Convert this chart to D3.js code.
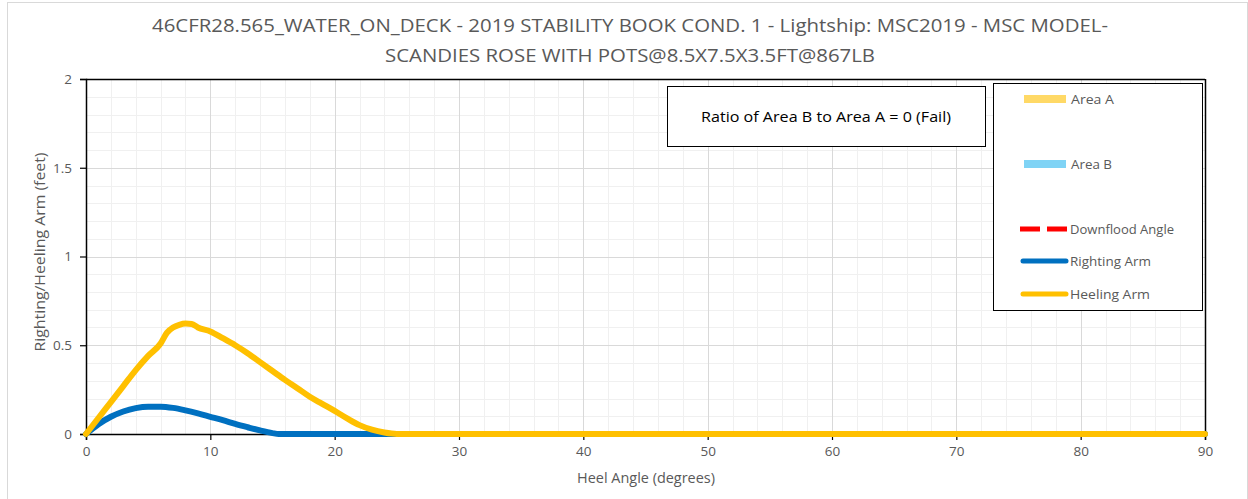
<!DOCTYPE html>
<html>
<head>
<meta charset="utf-8">
<script src="https://cdn.jsdelivr.net/npm/d3@7"></script>
<style>
  html, body { margin: 0; padding: 0; background: #fff; }
  svg { display: block; }
  text { font-family: "Open Sans", "Noto Sans", sans-serif; }
</style>
</head>
<body>
<svg id="chart" width="1248" height="499"></svg>
<script>
// ---- data ----
const titleLines = [
  "46CFR28.565_WATER_ON_DECK - 2019 STABILITY BOOK COND. 1 - Lightship: MSC2019 - MSC MODEL-",
  "SCANDIES ROSE WITH POTS@8.5X7.5X3.5FT@867LB"
];
const xTicks = [0, 10, 20, 30, 40, 50, 60, 70, 80, 90];
const yTicks = [0, 0.5, 1, 1.5, 2];
const yTickLabels = ["0", "0.5", "1", "1.5", "2"];

const heelingAngle = [0, 1, 2, 3, 4, 5, 6, 6.5, 7, 7.5, 8, 8.5, 9, 10, 11, 12, 13, 14, 15, 16, 17, 18, 19, 20, 21, 22, 23, 24, 25, 30, 40, 50, 60, 70, 80, 90];
const heelingArm   = [0, 0.09, 0.18, 0.27, 0.36, 0.44, 0.51, 0.57, 0.60, 0.615, 0.622, 0.62, 0.60, 0.578, 0.54, 0.50, 0.455, 0.405, 0.355, 0.305, 0.258, 0.21, 0.17, 0.13, 0.088, 0.05, 0.024, 0.008, 0, 0, 0, 0, 0, 0, 0, 0];

const rightingAngle = [0, 1, 2, 3, 4, 5, 6, 7, 8, 9, 10, 11, 12, 13, 14, 15, 15.5, 20, 30, 40, 50, 60, 70, 80, 90];
const rightingArm   = [0, 0.055, 0.097, 0.127, 0.146, 0.154, 0.154, 0.147, 0.133, 0.116, 0.097, 0.078, 0.057, 0.038, 0.02, 0.005, 0, 0, 0, 0, 0, 0, 0, 0, 0];

const legendNames = ["Area A", "Area B", "Downflood Angle", "Righting Arm", "Heeling Arm"];
const ratioText = "Ratio of Area B to Area A = 0 (Fail)";

// ---- layout ----
const svg = d3.select("#chart");
const L = 86, R = 1205, T = 79, B = 434;
const x = d3.scaleLinear().domain([0, 90]).range([L, R]);
const y = d3.scaleLinear().domain([0, 2]).range([B, T]);
const textCol = "#595959";

// outer chart border
svg.append("rect").attr("x", 7.5).attr("y", 2.5).attr("width", 1240).attr("height", 510)
  .attr("fill", "#fff").attr("stroke", "#d9d9d9").attr("stroke-width", 1);

// title
const titleY = [32, 62];
const titleLen = [956, 490];
titleLines.forEach((t, i) => {
  svg.append("text").attr("x", 630).attr("y", titleY[i]).attr("text-anchor", "middle")
    .attr("font-size", 18.5).attr("fill", textCol)
    .attr("textLength", titleLen[i]).attr("lengthAdjust", "spacingAndGlyphs")
    .text(t);
});

// minor gridlines
const minorX = d3.range(0, 91, 2).filter(d => d % 10 !== 0);
const minorY = d3.range(0, 2.001, 0.1).map(d => +d.toFixed(1)).filter(d => Math.abs(d * 2 - Math.round(d * 2)) > 1e-6);
const g = svg.append("g");
g.selectAll(".mx").data(minorX).join("line")
  .attr("x1", d => Math.round(x(d)) + 0.5).attr("x2", d => Math.round(x(d)) + 0.5)
  .attr("y1", T).attr("y2", B).attr("stroke", "#f0f0f0").attr("stroke-width", 1);
g.selectAll(".my").data(minorY).join("line")
  .attr("y1", d => Math.round(y(d)) + 0.5).attr("y2", d => Math.round(y(d)) + 0.5)
  .attr("x1", L).attr("x2", R).attr("stroke", "#f0f0f0").attr("stroke-width", 1);
// major gridlines
g.selectAll(".Mx").data(xTicks.slice(1, -1)).join("line")
  .attr("x1", d => Math.round(x(d)) + 0.5).attr("x2", d => Math.round(x(d)) + 0.5)
  .attr("y1", T).attr("y2", B).attr("stroke", "#d9d9d9").attr("stroke-width", 1);
g.selectAll(".My").data(yTicks.slice(1, -1)).join("line")
  .attr("y1", d => Math.round(y(d)) + 0.5).attr("y2", d => Math.round(y(d)) + 0.5)
  .attr("x1", L).attr("x2", R).attr("stroke", "#d9d9d9").attr("stroke-width", 1);

// plot border (top/right)
svg.append("line").attr("x1", L).attr("x2", R).attr("y1", T + 0.5).attr("y2", T + 0.5).attr("stroke", "#000").attr("stroke-width", 1.5);
svg.append("line").attr("x1", R + 0.5).attr("x2", R + 0.5).attr("y1", T).attr("y2", B).attr("stroke", "#000").attr("stroke-width", 1.5);

// axes
const xAxis = d3.axisBottom(x).tickValues(xTicks).tickSize(6).tickPadding(6).tickFormat(d3.format("d"));
const yAxis = d3.axisLeft(y).tickValues(yTicks).tickSize(6).tickPadding(8).tickFormat((d, i) => yTickLabels[i]);
const gx = svg.append("g").attr("transform", `translate(0,${B})`).call(xAxis);
const gy = svg.append("g").attr("transform", `translate(${L},0)`).call(yAxis);
[gx, gy].forEach(a => {
  a.select(".domain").attr("stroke", "#000").attr("stroke-width", 1.5);
  a.selectAll(".tick line").attr("stroke", "#000").attr("stroke-width", 1.2);
  a.selectAll(".tick text").attr("fill", textCol).attr("font-size", 13.5)
    .attr("font-family", "'Open Sans', 'Noto Sans', sans-serif");
});

// axis titles
svg.append("text").attr("x", 646).attr("y", 483).attr("text-anchor", "middle")
  .attr("font-size", 14).attr("fill", textCol)
  .attr("textLength", 138).attr("lengthAdjust", "spacingAndGlyphs").text("Heel Angle (degrees)");
svg.append("text").attr("transform", "translate(45,252) rotate(-90)").attr("text-anchor", "middle")
  .attr("font-size", 14).attr("fill", textCol)
  .attr("textLength", 199).attr("lengthAdjust", "spacingAndGlyphs").text("Righting/Heeling Arm (feet)");

// curves
const line = d3.line().x(d => x(d[0])).y(d => y(d[1])).curve(d3.curveMonotoneX);
const raData = rightingAngle.map((a, i) => [a, rightingArm[i]]);
const haData = heelingAngle.map((a, i) => [a, heelingArm[i]]);
svg.append("path").datum(raData).attr("d", line).attr("fill", "none")
  .attr("stroke", "#0070C0").attr("stroke-width", 6).attr("stroke-linejoin", "round").attr("stroke-linecap", "round");
svg.append("path").datum(haData).attr("d", line).attr("fill", "none")
  .attr("stroke", "#FFC000").attr("stroke-width", 6).attr("stroke-linejoin", "round").attr("stroke-linecap", "round");

// ratio box
svg.append("rect").attr("x", 667.5).attr("y", 86.5).attr("width", 318).attr("height", 60)
  .attr("fill", "#fff").attr("stroke", "#000").attr("stroke-width", 1);
svg.append("text").attr("x", 826).attr("y", 122).attr("text-anchor", "middle")
  .attr("font-size", 14.5).attr("fill", "#000").attr("textLength", 250).attr("lengthAdjust", "spacingAndGlyphs")
  .text(ratioText);

// legend
svg.append("rect").attr("x", 993.5).attr("y", 83.5).attr("width", 209).attr("height", 227)
  .attr("fill", "#fff").attr("stroke", "#000").attr("stroke-width", 1);
const legY = [99, 164, 229, 261, 294];
const leg = svg.append("g");
leg.append("line").attr("x1", 1024).attr("x2", 1066).attr("y1", legY[0]).attr("y2", legY[0])
  .attr("stroke", "#FFD966").attr("stroke-width", 8);
leg.append("line").attr("x1", 1024).attr("x2", 1066).attr("y1", legY[1]).attr("y2", legY[1])
  .attr("stroke", "#7FD3F5").attr("stroke-width", 8);
leg.append("line").attr("x1", 1020).attr("x2", 1067).attr("y1", legY[2]).attr("y2", legY[2])
  .attr("stroke", "#FF0000").attr("stroke-width", 5).attr("stroke-dasharray", "20,7");
leg.append("line").attr("x1", 1023).attr("x2", 1066).attr("y1", legY[3]).attr("y2", legY[3])
  .attr("stroke", "#0070C0").attr("stroke-width", 5).attr("stroke-linecap", "round");
leg.append("line").attr("x1", 1023).attr("x2", 1066).attr("y1", legY[4]).attr("y2", legY[4])
  .attr("stroke", "#FFC000").attr("stroke-width", 5).attr("stroke-linecap", "round");
const legLen = [43, 41, 104, 81, 80];
legendNames.forEach((n, i) => {
  leg.append("text").attr("x", i < 2 ? 1071 : 1070).attr("y", legY[i] + 4.5)
    .attr("font-size", 12.5).attr("fill", textCol)
    .attr("textLength", legLen[i]).attr("lengthAdjust", "spacingAndGlyphs").text(n);
});
</script>
</body>
</html>
